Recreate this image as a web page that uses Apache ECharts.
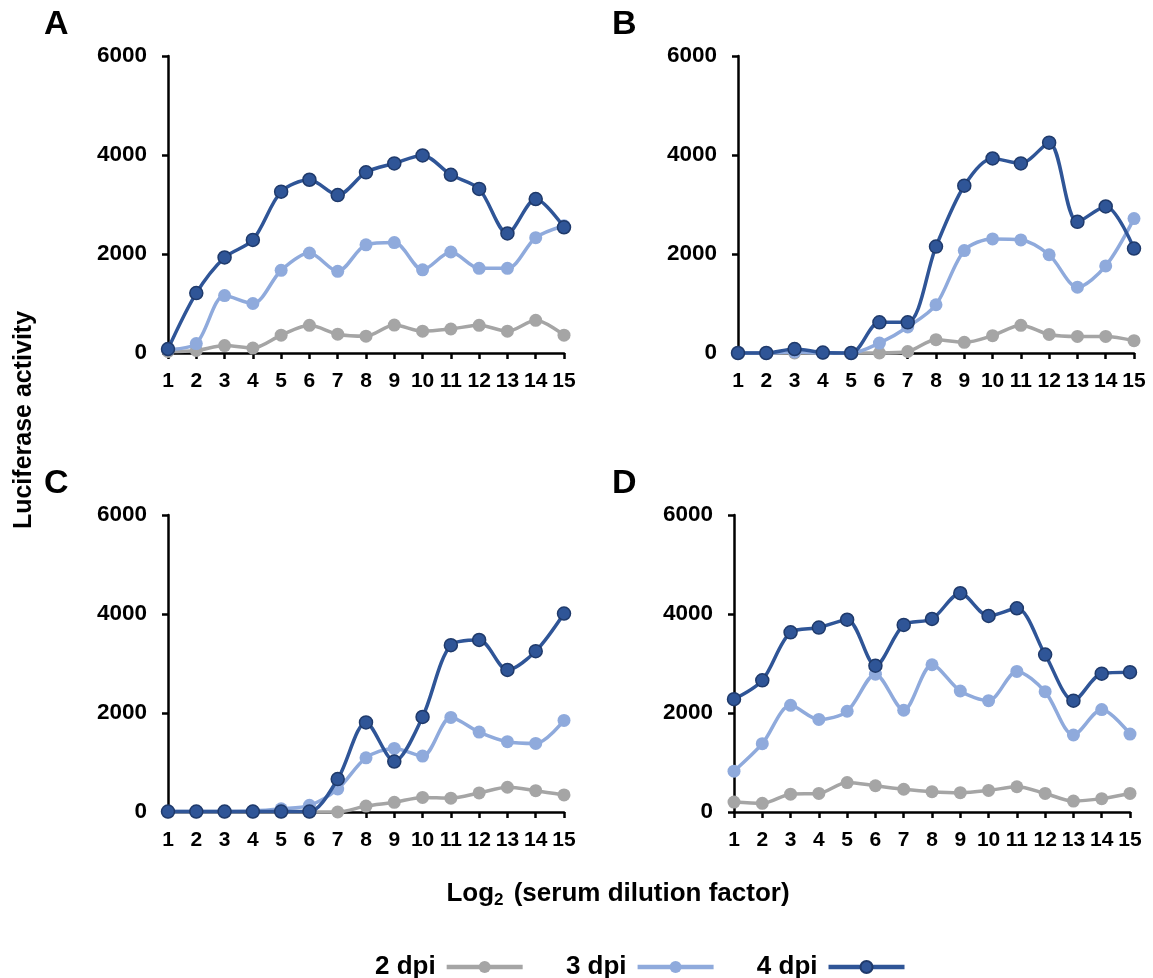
<!DOCTYPE html>
<html>
<head>
<meta charset="utf-8">
<script src="https://cdn.jsdelivr.net/npm/echarts@6/dist/echarts.min.js"></script>
<style>
html,body{margin:0;padding:0;background:#fff;}
#c{width:1153px;height:978px;}
</style>
</head>
<body>
<div id="c"></div>
<script>
var dilutions = ['1','2','3','4','5','6','7','8','9','10','11','12','13','14','15'];
var yTicks = [0, 2000, 4000, 6000];
var seriesNames = ['2 dpi', '3 dpi', '4 dpi'];

// Panel A
var A_2dpi = [30, 50, 150, 100, 360, 560, 380, 340, 565, 440, 485, 560, 440, 660, 360];
var A_3dpi = [70, 190, 1160, 1000, 1670, 2020, 1650, 2185, 2230, 1680, 2040, 1710, 1710, 2330, 2570];
var A_4dpi = [80, 1210, 1930, 2285, 3260, 3500, 3190, 3650, 3830, 3990, 3600, 3315, 2415, 3110, 2540];
// Panel B
var B_2dpi = [0, 0, 0, 0, 0, 0, 30, 270, 215, 350, 560, 375, 335, 335, 250];
var B_3dpi = [0, 0, 20, 0, 0, 200, 525, 975, 2070, 2305, 2285, 1985, 1330, 1760, 2715];
var B_4dpi = [0, 0, 80, 10, 0, 620, 620, 2150, 3380, 3930, 3830, 4250, 2650, 2960, 2110];
// Panel C
var C_2dpi = [0, 0, 0, 0, 0, 0, 0, 120, 195, 295, 280, 385, 500, 430, 345];
var C_3dpi = [10, 10, 10, 20, 65, 135, 465, 1095, 1285, 1130, 1910, 1615, 1420, 1385, 1850];
var C_4dpi = [10, 10, 10, 10, 10, 10, 665, 1810, 1020, 1920, 3370, 3475, 2870, 3250, 4010];
// Panel D
var D_2dpi = [200, 175, 360, 375, 595, 530, 460, 410, 390, 435, 510, 375, 220, 270, 375];
var D_3dpi = [825, 1380, 2155, 1870, 2035, 2785, 2055, 2975, 2445, 2250, 2840, 2430, 1555, 2070, 1575];
var D_4dpi = [2280, 2660, 3630, 3725, 3885, 2955, 3780, 3900, 4420, 3960, 4115, 3180, 2250, 2795, 2825];

var panelLabels = ['A', 'B', 'C', 'D'];
var panels = [
  [A_2dpi, A_3dpi, A_4dpi],
  [B_2dpi, B_3dpi, B_4dpi],
  [C_2dpi, C_3dpi, C_4dpi],
  [D_2dpi, D_3dpi, D_4dpi]
];

var colors = ['#A5A5A5', '#8FAADC', '#2F5597'];
var borders = ['#A5A5A5', '#8FAADC', '#1F3A6B'];
var FONT = 'Liberation Sans, Arial, sans-serif';

var grids = [
  {left: 168, top: 56, width: 396, height: 297},
  {left: 738, top: 56, width: 396, height: 297},
  {left: 168, top: 515, width: 396, height: 297},
  {left: 734, top: 515, width: 396, height: 297}
];
var labelPos = [[44, 8], [612, 8], [44, 467], [612, 467]];

var xAxes = [], yAxes = [], series = [], graphics = [];
grids.forEach(function (g, i) {
  xAxes.push({
    type: 'category', gridIndex: i, data: dilutions, boundaryGap: false,
    axisLine: {lineStyle: {color: '#000', width: 2.5}},
    axisTick: {show: true, inside: false, length: 6, alignWithLabel: true, interval: 0, lineStyle: {color: '#000', width: 2.5}},
    axisLabel: {interval: 0, margin: 18, color: '#000', fontFamily: FONT, fontWeight: 'bold', fontSize: 21, hideOverlap: false},
    splitLine: {show: false}
  });
  yAxes.push({
    type: 'value', gridIndex: i, min: yTicks[0], max: yTicks[yTicks.length - 1], interval: 2000,
    axisLine: {show: true, lineStyle: {color: '#000', width: 2.5}},
    axisTick: {show: true, inside: false, length: 6, lineStyle: {color: '#000', width: 2.5}},
    axisLabel: {margin: 21, color: '#000', fontFamily: FONT, fontWeight: 'bold', fontSize: 22.5,
      formatter: function (v) { return String(v); }},
    splitLine: {show: false}
  });
  panels[i].forEach(function (vals, k) {
    series.push({
      name: seriesNames[k], type: 'line', xAxisIndex: i, yAxisIndex: i,
      data: vals, smooth: 0.3, symbol: 'circle', symbolSize: 13,
      showAllSymbol: true, clip: false, z: 2 + k,
      lineStyle: {color: colors[k], width: 3.5},
      itemStyle: {color: colors[k], borderColor: borders[k], borderWidth: k === 2 ? 1.5 : 0},
      emphasis: {disabled: true}
    });
  });
  graphics.push({
    type: 'text', left: labelPos[i][0], top: labelPos[i][1],
    style: {text: panelLabels[i], font: 'bold 34px ' + FONT, fill: '#000'}
  });
});

graphics.push({
  type: 'text', x: 24, y: 420, rotation: Math.PI / 2,
  style: {text: 'Luciferase activity', font: 'bold 25px ' + FONT, fill: '#000', align: 'center', verticalAlign: 'middle'}
});
graphics.push({
  type: 'text', x: 618, y: 894,
  style: {
    text: '{a|Log}{s|2}{a| (serum dilution factor)}',
    align: 'center', verticalAlign: 'middle',
    rich: {
      a: {fontSize: 26, fontWeight: 'bold', fontFamily: FONT, fill: '#000', verticalAlign: 'middle'},
      s: {fontSize: 17, fontWeight: 'bold', fontFamily: FONT, fill: '#000', padding: [13, 3, 0, 0]}
    }
  }
});

var option = {
  animation: false,
  backgroundColor: '#fff',
  grid: grids,
  xAxis: xAxes,
  yAxis: yAxes,
  series: series,
  legend: {
    data: seriesNames, left: 370, top: 949, align: 'right',
    itemWidth: 76, itemHeight: 15, itemGap: 41, selectedMode: false,
    lineStyle: {width: 4.5},
    textStyle: {fontFamily: FONT, fontWeight: 'bold', fontSize: 26, color: '#000', padding: [0, 6, 0, 0]}
  },
  graphic: graphics
};

var chart = echarts.init(document.getElementById('c'), null, {renderer: 'canvas'});
chart.setOption(option);
</script>
</body>
</html>
